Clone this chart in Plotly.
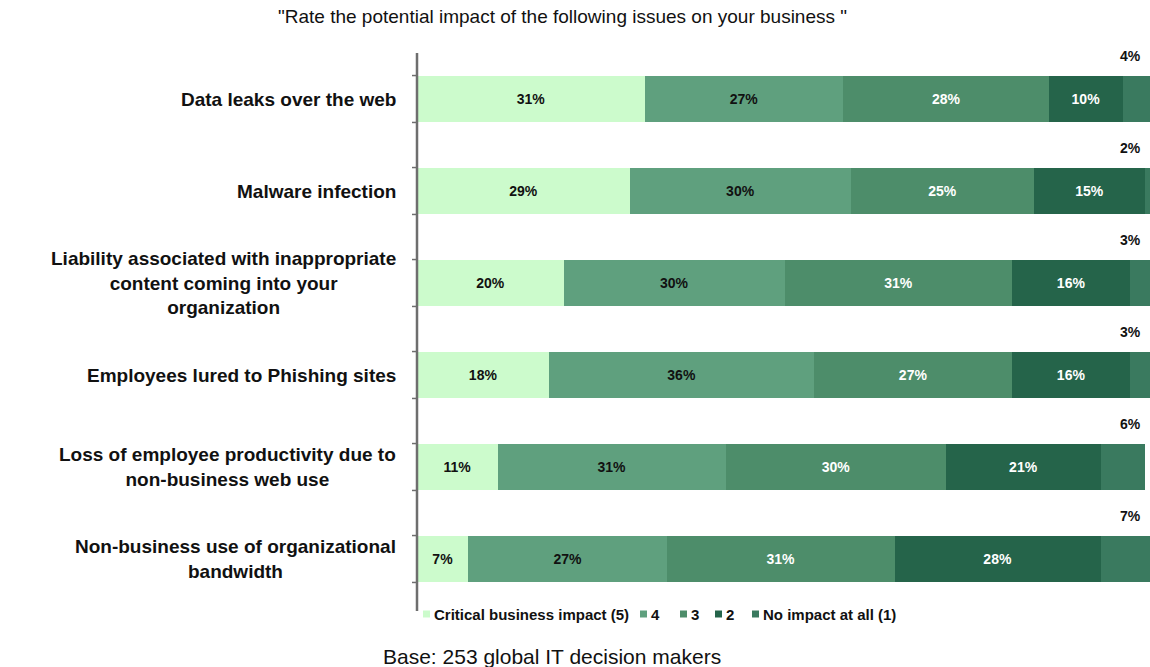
import plotly.graph_objects as go

# Survey items (top to bottom)
issues = [
    "Data leaks over the web",
    "Malware infection",
    "Liability associated with inappropriate<br>content coming into your<br>organization",
    "Employees lured to Phishing sites",
    "Loss of employee productivity due to<br>non-business web use",
    "Non-business use of organizational<br>bandwidth",
]

# Rating categories and their shares (%) per issue
ratings = ["Critical business impact (5)", "4", "3", "2", "No impact at all (1)"]
critical = [31, 29, 20, 18, 11, 7]
rating4 = [27, 30, 30, 36, 31, 27]
rating3 = [28, 25, 31, 27, 30, 31]
rating2 = [10, 15, 16, 16, 21, 28]
no_impact = [4, 2, 3, 3, 6, 7]

series = [critical, rating4, rating3, rating2, no_impact]
colors = ["#CCFBCC", "#5FA07E", "#4D8D6A", "#25644A", "#3A7A5F"]
text_colors = ["#111111", "#111111", "#FFFFFF", "#FFFFFF", "#FFFFFF"]

title_text = '"Rate the potential impact of the following issues on your business "'
base_text = "Base: 253 global IT decision makers"

W, H = 1150, 667
L, T, B = 417, 53, 62
plot_w = W - L
plot_h = H - T - B


def px_x(px):
    """Horizontal pixel position -> paper fraction."""
    return (px - L) / plot_w


def px_y(py):
    """Vertical pixel position (from top) -> paper fraction."""
    return 1 - (py - T) / plot_h


ids = list(range(len(issues)))
FONT = "Liberation Sans, Arial, sans-serif"

fig = go.Figure()
for k, (vals, col) in enumerate(zip(series, colors)):
    last = k == len(series) - 1
    fig.add_trace(go.Bar(
        y=ids, x=vals, orientation="h", name=ratings[k],
        marker=dict(color=col, line=dict(width=0)),
        text=None if last else [f"<b>{v}%</b>" for v in vals],
        textposition="inside", insidetextanchor="middle",
        textangle=0, constraintext="none",
        textfont=dict(family=FONT, size=14, color=text_colors[k]),
        showlegend=False, hoverinfo="skip",
    ))

annotations = []
# Category labels to the left of the axis
for i, lab in enumerate(issues):
    annotations.append(dict(
        x=0, xref="paper", xshift=-19, xanchor="right",
        y=i, yref="y", yanchor="middle",
        text=f"<b>{lab}</b>", showarrow=False, align="center",
        font=dict(family=FONT, size=19, color="#111111"),
    ))
# "No impact" shares written above each bar at the right end
for i, v in enumerate(no_impact):
    annotations.append(dict(
        x=1, xref="paper", xshift=-7, xanchor="right",
        y=i, yref="y", yshift=43, yanchor="middle",
        text=f"<b>{v}%</b>", showarrow=False,
        font=dict(family=FONT, size=14, color="#111111"),
    ))
# Title and footnote
annotations.append(dict(
    x=px_x(562), xref="paper", y=px_y(16), yref="paper",
    xanchor="center", yanchor="middle", text=title_text, showarrow=False,
    font=dict(family=FONT, size=19, color="#111111"),
))
annotations.append(dict(
    x=px_x(552), xref="paper", y=px_y(656), yref="paper",
    xanchor="center", yanchor="middle", text=base_text, showarrow=False,
    font=dict(family=FONT, size=21, color="#111111"),
))

shapes = []
# Category axis line
shapes.append(dict(type="line", xref="paper", yref="paper",
                   x0=0, x1=0, y0=px_y(611), y1=1,
                   line=dict(color="#6E6E6E", width=2.5)))
# Small ticks at the bar edges
for i in ids:
    for d in (-0.255, 0.255):
        shapes.append(dict(type="line", xref="paper", yref="y",
                           x0=px_x(L - 5), x1=0, y0=i + d, y1=i + d,
                           line=dict(color="#6E6E6E", width=1.5)))

# Legend drawn as small swatches with labels
leg_y = px_y(614)
leg_x = [423, 640, 680, 715, 752]
for k, name in enumerate(ratings):
    shapes.append(dict(type="rect", xref="paper", yref="paper",
                       x0=px_x(leg_x[k]), x1=px_x(leg_x[k] + 7),
                       y0=px_y(617.5), y1=px_y(610.5),
                       fillcolor=colors[k], line=dict(width=0)))
    annotations.append(dict(
        x=px_x(leg_x[k] + 9), xref="paper", xanchor="left",
        y=leg_y, yref="paper", yanchor="middle",
        text=f"<b>{name}</b>", showarrow=False,
        font=dict(family=FONT, size=15, color="#111111"),
    ))

fig.update_layout(
    width=W, height=H,
    margin=dict(l=L, r=0, t=T, b=B, pad=0),
    barmode="stack", bargap=0.49,
    plot_bgcolor="white", paper_bgcolor="white",
    xaxis=dict(range=[0, plot_w / 7.35], visible=False, fixedrange=True),
    yaxis=dict(range=[len(issues) - 0.5, -0.5], showticklabels=False,
               showgrid=False, zeroline=False, showline=False, ticks="",
               fixedrange=True),
    annotations=annotations, shapes=shapes,
    showlegend=False,
)

fig.write_html("out.html")
